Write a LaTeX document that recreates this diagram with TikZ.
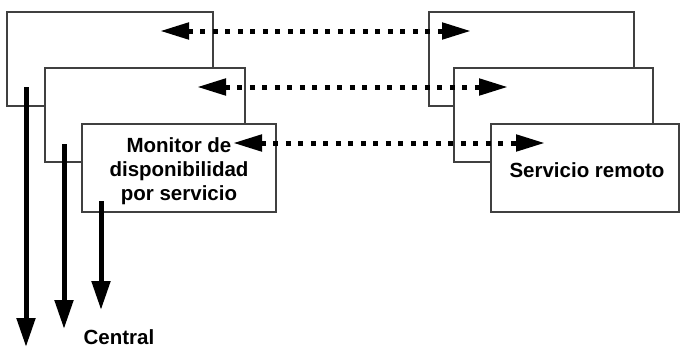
\documentclass[tikz,border=0pt]{standalone}
\usepackage{fontspec}
\setmainfont{Liberation Sans}
\usetikzlibrary{arrows.meta}
\begin{document}
\begin{tikzpicture}[x=1pt,y=-1pt,
  panel/.style={draw=black!75,line width=1.4pt,fill=white,rectangle,inner sep=0pt},
  lbl/.style={font=\fontsize{20.5}{24}\selectfont\bfseries,align=center,inner sep=0pt},
  downarrow/.style={line width=5pt,-{Triangle[length=29pt,width=18pt]}},
  linkarrow/.style={line width=5pt,dash pattern=on 5pt off 7.5pt,
     {Triangle[length=29pt,width=16pt]}-{Triangle[length=29pt,width=16pt]}}]
\useasboundingbox (0,0) rectangle (680,348);
% left stack
\node[panel,minimum width=206pt,minimum height=94pt] (L1) at (110,59) {};
\node[panel,minimum width=200pt,minimum height=94pt] (L2) at (145,115) {};
\node[panel,minimum width=194pt,minimum height=88pt] (L3) at (179,168) {};
% right stack
\node[panel,minimum width=205pt,minimum height=94pt] (R1) at (531.5,59) {};
\node[panel,minimum width=199pt,minimum height=94pt] (R2) at (553.5,115) {};
\node[panel,minimum width=188pt,minimum height=88pt] (R3) at (585,168) {};
% labels
\node[lbl] (monitor) at (179,171) {Monitor de\\disponibilidad\\por servicio};
\node[lbl] (remoto) at (587,170) {Servicio remoto};
\node[lbl] (central) at (119,337) {Central};
% end points
\coordinate (a1s) at (26,87);   \coordinate (a1e) at (26,347);
\coordinate (a2s) at (64,144);  \coordinate (a2e) at (64,329);
\coordinate (a3s) at (101,201); \coordinate (a3e) at (101,310);
\coordinate (l1) at (160,31);  \coordinate (r1) at (471,31);
\coordinate (l2) at (197,87);  \coordinate (r2) at (508,87);
\coordinate (l3) at (233,143); \coordinate (r3) at (545,143);
% arrows
\draw[downarrow] (a1s) -- (a1e);
\draw[downarrow] (a2s) -- (a2e);
\draw[downarrow] (a3s) -- (a3e);
\draw[linkarrow] (l1) -- (r1);
\draw[linkarrow] (l2) -- (r2);
\draw[linkarrow] (l3) -- (r3);
\end{tikzpicture}
\end{document}
